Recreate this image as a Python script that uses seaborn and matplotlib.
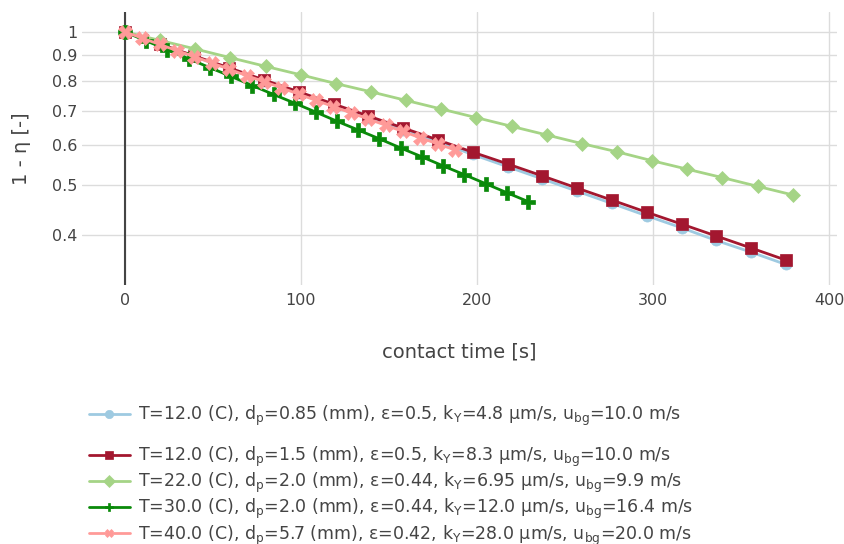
import matplotlib
matplotlib.use("Agg")
import matplotlib.pyplot as plt
import seaborn as sns
import pandas as pd

# contact times [s] and remaining fraction 1 - eta for each bed configuration
t_a = [0, 19.8, 39.5, 59.3, 79.0, 98.8, 118.6, 138.3, 158.1, 177.8,
       197.6, 217.4, 237.1, 256.9, 276.6, 296.4, 316.2, 335.9, 355.7, 375.4]
y_a = [1.000, 0.946, 0.895, 0.847, 0.801, 0.758, 0.718, 0.679, 0.642, 0.608,
       0.575, 0.544, 0.515, 0.487, 0.461, 0.436, 0.413, 0.390, 0.370, 0.350]

t_b = [0, 19.8, 39.5, 59.3, 79.0, 98.8, 118.6, 138.3, 158.1, 177.8,
       197.6, 217.4, 237.1, 256.9, 276.6, 296.4, 316.2, 335.9, 355.7, 375.4]
y_b = [1.000, 0.947, 0.897, 0.850, 0.805, 0.763, 0.722, 0.684, 0.648, 0.614,
       0.581, 0.551, 0.522, 0.494, 0.468, 0.443, 0.420, 0.398, 0.377, 0.357]

t_c = [0, 20.0, 39.9, 59.9, 79.9, 99.8, 119.8, 139.8, 159.7, 179.7,
       199.7, 219.6, 239.6, 259.6, 279.5, 299.5, 319.5, 339.4, 359.4, 379.4]
y_c = [1.000, 0.962, 0.926, 0.890, 0.856, 0.824, 0.792, 0.763, 0.734, 0.706,
       0.679, 0.653, 0.628, 0.604, 0.582, 0.559, 0.538, 0.518, 0.498, 0.479]

t_d = [0, 12.1, 24.1, 36.2, 48.2, 60.3, 72.3, 84.4, 96.4, 108.5,
       120.5, 132.6, 144.6, 156.7, 168.7, 180.8, 192.8, 204.9, 216.9, 229.0]
y_d = [1.000, 0.960, 0.923, 0.886, 0.851, 0.818, 0.785, 0.754, 0.725, 0.696,
       0.668, 0.642, 0.617, 0.592, 0.569, 0.546, 0.525, 0.504, 0.484, 0.465]

t_e = [0, 9.9, 19.7, 29.6, 39.5, 49.4, 59.2, 69.1, 79.0, 88.8,
       98.7, 108.6, 118.4, 128.3, 138.2, 148.1, 157.9, 167.8, 177.7, 187.5]
y_e = [1.000, 0.972, 0.945, 0.919, 0.894, 0.869, 0.845, 0.821, 0.799, 0.777,
       0.755, 0.734, 0.714, 0.694, 0.675, 0.656, 0.638, 0.620, 0.603, 0.587]

labels = [
    "T=12.0 (C), d$_\\mathregular{p}$=0.85 (mm), ε=0.5, k$_\\mathregular{Y}$=4.8 μm/s, u$_\\mathregular{bg}$=10.0 m/s",
    "T=12.0 (C), d$_\\mathregular{p}$=1.5 (mm), ε=0.5, k$_\\mathregular{Y}$=8.3 μm/s, u$_\\mathregular{bg}$=10.0 m/s",
    "T=22.0 (C), d$_\\mathregular{p}$=2.0 (mm), ε=0.44, k$_\\mathregular{Y}$=6.95 μm/s, u$_\\mathregular{bg}$=9.9 m/s",
    "T=30.0 (C), d$_\\mathregular{p}$=2.0 (mm), ε=0.44, k$_\\mathregular{Y}$=12.0 μm/s, u$_\\mathregular{bg}$=16.4 m/s",
    "T=40.0 (C), d$_\\mathregular{p}$=5.7 (mm), ε=0.42, k$_\\mathregular{Y}$=28.0 μm/s, u$_\\mathregular{bg}$=20.0 m/s",
]

y_ticks = [0.4, 0.5, 0.6, 0.7, 0.8, 0.9, 1.0]
y_tick_labels = ["0.4", "0.5", "0.6", "0.7", "0.8", "0.9", "1"]
x_ticks = [0, 100, 200, 300, 400]

colors = ["#9ecae1", "#a3172f", "#a5d486", "#0a8a0a", "#ff9a98"]
markers = ["o", "s", "D", "P", "X"]
msizes = [8.0, 8.0, 7.5, 9.5, 9.5]

sns.set_theme(style="white")
plt.rcParams["font.family"] = ["DejaVu Sans"]
plt.rcParams["mathtext.fontset"] = "dejavusans"
text_color = "#444444"

fig = plt.figure(figsize=(8.45, 5.44), dpi=100)
W, H = 845, 544
left, right, top, bottom = 82, 837, 12, 285
ax = fig.add_axes([left / W, 1 - bottom / H, (right - left) / W, (bottom - top) / H])

series = [(t_a, y_a), (t_b, y_b), (t_c, y_c), (t_d, y_d), (t_e, y_e)]
for i, (t, y) in enumerate(series):
    df = pd.DataFrame({"t": t, "y": y})
    sns.lineplot(data=df, x="t", y="y", ax=ax, color=colors[i], marker=markers[i],
                 markersize=msizes[i], markeredgecolor=colors[i], markeredgewidth=0.5,
                 linewidth=2.0, zorder=3 + i, label=labels[i], legend=False)

ax.set_yscale("log")
ax.set_xlim(-24.4, 404.5)
ax.set_ylim(0.319, 1.094)
ax.set_yticks(y_ticks)
ax.set_yticklabels(y_tick_labels)
ax.yaxis.set_minor_locator(matplotlib.ticker.NullLocator())
ax.set_xticks(x_ticks)
ax.set_xticklabels([str(v) for v in x_ticks])

ax.grid(True, color="#dcdcdc", linewidth=1.0)
ax.set_axisbelow(True)
for s in ax.spines.values():
    s.set_visible(False)
ax.axvline(0, color="#444444", linewidth=1.5, zorder=2)
ax.tick_params(axis="both", length=0, labelsize=11.5, colors=text_color)
ax.tick_params(axis="y", pad=3)
ax.tick_params(axis="x", pad=6)

ax.set_xlabel("")
ax.set_ylabel("")
fig.text((left + right) / 2 / W, 1 - 352 / H, "contact time [s]", ha="center",
         va="center", fontsize=14, color=text_color)
fig.text(22 / W, 1 - 149 / H, "1 - η [-]", ha="center", va="center",
         rotation=90, fontsize=14, color=text_color)

handles = ax.get_lines()[:5]
leg_kw = dict(loc="center left", frameon=False, fontsize=12.5, handlelength=2.35,
              handletextpad=0.45, borderpad=0, borderaxespad=0, labelcolor=text_color)
leg1 = fig.legend([handles[0]], [labels[0]], bbox_to_anchor=(89 / W, 1 - 416 / H), **leg_kw)
for h in leg1.legend_handles:
    h.set_markersize(6)
leg2 = fig.legend(handles[1:], labels[1:], bbox_to_anchor=(89 / W, 1 - 496 / H),
                  labelspacing=0.12, **leg_kw)
for h in leg2.legend_handles:
    h.set_markersize(6)

fig.savefig("out.png", dpi=100)
